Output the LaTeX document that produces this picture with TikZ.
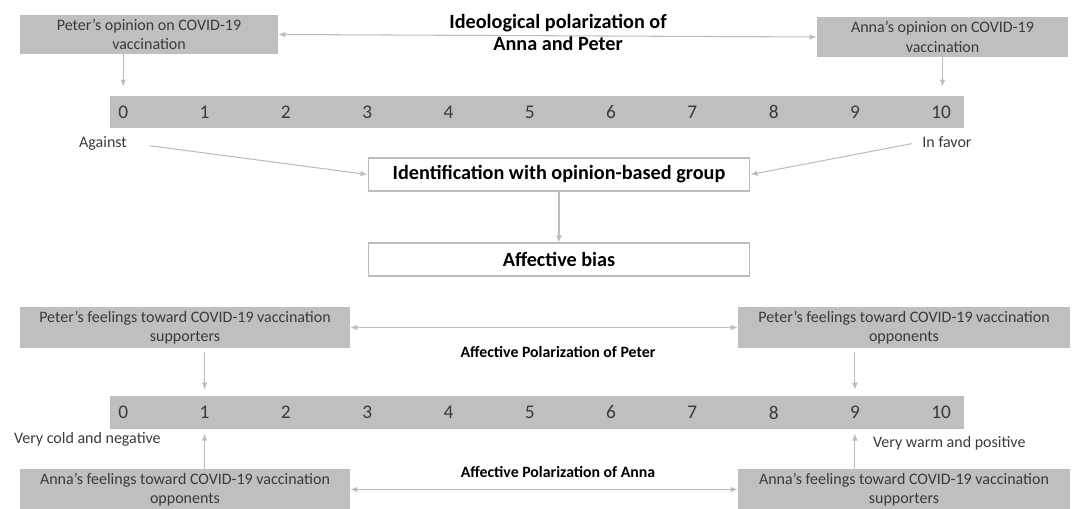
\documentclass[tikz,border=0pt]{standalone}
\usepackage{fontspec}
\setmainfont{Carlito}
\usepackage{xcolor}
\usetikzlibrary{positioning,arrows.meta}
\definecolor{boxgray}{HTML}{BFBFBF}
\definecolor{linegray}{HTML}{BDBDBD}
\definecolor{txtgray}{HTML}{3A3A3A}
\tikzset{
  flow/.style={-{Latex[length=4pt,width=3.2pt]}, line width=0.6pt, draw=linegray},
  twoway/.style={{Latex[length=4pt,width=3.2pt]}-{Latex[length=4pt,width=3.2pt]}, line width=0.6pt, draw=linegray},
  every node/.style={anchor=center}
}

\begin{document}
\begin{tikzpicture}[
    x=0.02cm, y=-0.02cm,
    graybox/.style={fill=boxgray, text=txtgray, align=center, inner sep=0pt, font=\fontsize{9.1}{11.2}\selectfont},
    whitebox/.style={fill=white, draw=linegray, line width=0.6pt, inner sep=0pt, minimum width=7.64cm, font=\bfseries\fontsize{11.5}{13}\selectfont},
    scalebar/.style={fill=boxgray, inner sep=0pt, minimum width=17.08cm, minimum height=0.65cm},
    num/.style={text=txtgray, inner sep=0pt, anchor=west, font=\fontsize{11}{13}\selectfont},
    side/.style={text=txtgray, inner sep=1pt, font=\fontsize{9.1}{11}\selectfont},
    head/.style={align=center, inner sep=1pt, font=\bfseries\fontsize{11.5}{12}\selectfont},
    subhead/.style={inner sep=1pt, font=\bfseries\fontsize{9}{10}\selectfont}
  ]
  \useasboundingbox (0,0) rectangle (1072,509);

  % ideological part
  \node[graybox, minimum width=5.16cm, minimum height=0.78cm] (peterop) at (149,34.5)
    {Peter’s opinion on COVID-19\\vaccination};
  \node[graybox, minimum width=5.02cm, minimum height=0.8cm] (annaop) at (942.5,37)
    {Anna’s opinion on COVID-19\\vaccination};
  \node[head] (ideo) at (558,32.5) {Ideological polarization of\\Anna and Peter};
  \draw[twoway] (peterop.east) -- (annaop.west);

  % first scale
  \node[scalebar] (scaleA) at (537,112) {};
  \foreach \i in {0,...,10}
    \node[num] (a\i) at (118+81.3*\i,112) {\i};
  \draw[flow, shorten >=5pt] (a0.center |- peterop.south) -- (a0.center |- scaleA.north);
  \draw[flow, shorten >=5pt] (annaop.south) -- (annaop.south |- scaleA.north);

  \node[side] (against) at (103,143) {Against};
  \node[side] (infavor) at (947,142) {In favor};

  \node[whitebox, minimum height=0.66cm] (ident) at (559,174.5) {Identification with opinion-based group};
  \node[whitebox, minimum height=0.66cm] (bias) at (559,259.5) {Affective bias};
  \draw[flow, shorten <=12pt] (against.east) -- (ident.west);
  \draw[flow, shorten <=5pt] (infavor.west) -- (ident.east);
  \draw[flow] (ident.south) -- (bias.north);

  % affective part
  \node[graybox, minimum width=6.6cm, minimum height=0.82cm] (petersup) at (185,327.5)
    {Peter’s feelings toward COVID-19 vaccination\\supporters};
  \node[graybox, minimum width=6.64cm, minimum height=0.82cm] (peteropp) at (904,327.5)
    {Peter’s feelings toward COVID-19 vaccination\\opponents};
  \draw[twoway] (petersup.east) -- (peteropp.west);
  \node[subhead] (polpeter) at (558,352) {Affective Polarization of Peter};

  % second scale
  \node[scalebar] (scaleB) at (537,412.5) {};
  \foreach \i in {0,...,10}
    \node[num] (b\i) at (118+81.3*\i,412.5) {\i};

  \node[side, anchor=west] (cold) at (12,439) {Very cold and negative};
  \node[side, anchor=west] (warm) at (871,443) {Very warm and positive};

  \node[graybox, minimum width=6.6cm, minimum height=0.82cm] (annaopp) at (185,489.5)
    {Anna’s feelings toward COVID-19 vaccination\\opponents};
  \node[graybox, minimum width=6.64cm, minimum height=0.82cm] (annasup) at (904,489.5)
    {Anna’s feelings toward COVID-19 vaccination\\supporters};
  \draw[twoway] (annaopp.east) -- (annasup.west);
  \node[subhead] (polanna) at (558,472) {Affective Polarization of Anna};

  \draw[flow, shorten <=2pt, shorten >=3.5pt] (b1.center |- petersup.south) -- (b1.center |- scaleB.north);
  \draw[flow, shorten <=2pt, shorten >=3.5pt] (b9.center |- peteropp.south) -- (b9.center |- scaleB.north);
  \draw[flow, shorten >=2.5pt] (b1.center |- annaopp.north) -- (b1.center |- scaleB.south);
  \draw[flow, shorten >=2.5pt] (b9.center |- annasup.north) -- (b9.center |- scaleB.south);

\end{tikzpicture}
\end{document}
